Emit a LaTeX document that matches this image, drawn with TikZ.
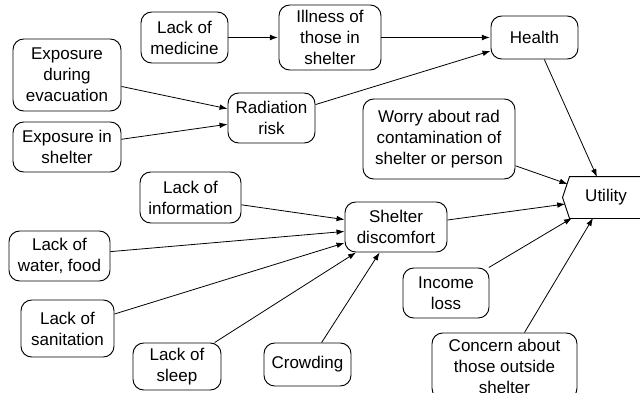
\documentclass[tikz,border=0pt]{standalone}
\usepackage{fontspec}
\setmainfont{Liberation Sans}
\usetikzlibrary{arrows.meta}
\begin{document}
\begin{tikzpicture}[x=0.75pt,y=-0.75pt,
  box/.style={draw, rounded corners=8pt, align=center, inner sep=0pt, line width=0.7pt,
    font=\fontsize{12.75}{15.75}\selectfont},
  conn/.style={-{Latex[length=6pt,width=4.2pt]}, line width=0.6pt},
  thickconn/.style={-{Latex[length=6.5pt,width=4.5pt]}, line width=1.4pt}]
\useasboundingbox (0,0) rectangle (640,393);
\clip (0,0) rectangle (640,393);
\node[box, minimum width=65.25pt, minimum height=38.25pt] (med) at (184.5,37.5) {Lack of\\medicine};
\node[box, minimum width=76.5pt, minimum height=48.75pt] (ill) at (330,37.5) {Illness of\\those in\\shelter};
\node[box, minimum width=65.25pt, minimum height=32.25pt] (health) at (534.5,37.5) {Health};
\node[box, minimum width=81pt, minimum height=54pt] (expev) at (67,75) {Exposure\\during\\evacuation};
\node[box, minimum width=81pt, minimum height=37.5pt] (expsh) at (67,147) {Exposure in\\shelter};
\node[box, minimum width=65.25pt, minimum height=37.5pt] (rad) at (271.5,118) {Radiation\\risk};
\node[box, minimum width=114pt, minimum height=60pt] (worry) at (439,139) {Worry about rad\\contamination of\\shelter or person};
\node[box, minimum width=75.75pt, minimum height=38.25pt] (info) at (190.5,197.5) {Lack of\\information};
\node[box, minimum width=76.5pt, minimum height=37.5pt] (shelter) at (396,227) {Shelter\\discomfort};
\node[box, minimum width=75.75pt, minimum height=37.5pt] (water) at (59.5,256) {Lack of\\water, food};
\node[box, minimum width=69.75pt, minimum height=42.75pt] (sanit) at (67.5,328.5) {Lack of\\sanitation};
\node[box, minimum width=66pt, minimum height=35.25pt] (sleep) at (177,366.5) {Lack of\\sleep};
\node[box, minimum width=65.25pt, minimum height=32.25pt] (crowd) at (307.5,364.5) {Crowding};
\node[box, minimum width=64.5pt, minimum height=37.5pt] (income) at (446,293) {Income\\loss};
\node[box, minimum width=108.75pt, minimum height=49.5pt] (concern) at (504.5,366) {Concern about\\those outside\\shelter};
% utility value node
\node[box, draw=none, minimum width=54pt, minimum height=30.75pt] (util) at (606,197.5) {Utility};
\draw[line width=0.7pt] ([xshift=20pt]util.north east) -- (util.north west)
  -- ([xshift=-5.25pt]util.west) -- (util.south west) -- ([xshift=20pt]util.south east);
\coordinate (uH) at (597,177);
\coordinate (uW) at (567.5,184);
\coordinate (uS) at (565.2,204);
\coordinate (uI) at (572,218);
\coordinate (uC) at (593,218);
% connectors
\draw[thickconn] (med) -- (ill);
\draw[thickconn] (ill) -- (health);
\draw[conn] (expev) -- (rad);
\draw[conn] (expsh) -- (rad);
\draw[conn] (rad) -- (health);
\draw[conn] (health) -- (uH);
\draw[conn] (worry) -- (uW);
\draw[conn] (shelter) -- (uS);
\draw[conn] (income) -- (uI);
\draw[conn] (concern) -- (uC);
\draw[conn] (info) -- (shelter);
\draw[conn] (water) -- (shelter);
\draw[conn] (sanit) -- (shelter);
\draw[conn] (sleep) -- (shelter);
\draw[conn] (crowd) -- (shelter);
\end{tikzpicture}
\end{document}
